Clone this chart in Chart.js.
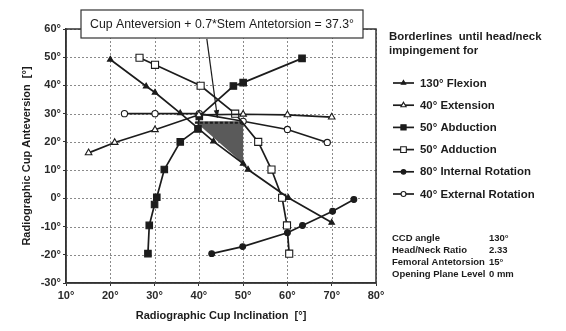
<!DOCTYPE html>
<html>
<head>
<meta charset="utf-8">
<script src="https://cdn.jsdelivr.net/npm/chart.js@4.4.1/dist/chart.umd.min.js"></script>
<style>
  html, body { margin: 0; padding: 0; background: #fff; }
  #wrap { width: 566px; height: 331px; position: relative; }
</style>
</head>
<body>
<div id="wrap"><canvas id="impingeChart"></canvas></div>
<script>
// ---------------------------------------------------------------
// DATA
// ---------------------------------------------------------------
const xTicks = [10, 20, 30, 40, 50, 60, 70, 80];
const yTicks = [-30, -20, -10, 0, 10, 20, 30, 40, 50, 60];

const seriesNames = ['130° Flexion', '40° Extension', '50° Abduction',
  '50° Adduction', '80° Internal Rotation', '40° External Rotation'];

const flexionX = [20, 28.1, 30.1, 35.8, 43.3, 50, 51.1, 60.2, 70];
const flexionY = [49.2, 39.7, 37.5, 30.2, 20.2, 12.3, 10.2, 0.2, -8.6];

const extensionX = [15.1, 21, 30.1, 40, 50, 60, 70];
const extensionY = [16.1, 19.8, 24.3, 29.6, 29.8, 29.6, 28.8];

const abductionX = [28.5, 28.8, 30, 30.5, 32.2, 35.8, 39.8, 40.1, 47.8, 50, 63.3];
const abductionY = [-19.6, -9.6, -2.2, 0.4, 10.2, 20, 24.6, 29, 39.8, 41, 49.6];

const adductionX = [26.6, 30.1, 40.4, 48.2, 53.4, 56.4, 58.8, 59.9, 60.4];
const adductionY = [49.8, 47.3, 39.9, 30, 20, 10.2, 0.2, -9.6, -19.6];

const intRotX = [42.9, 49.9, 60, 63.4, 70.2, 75];
const intRotY = [-19.6, -17.1, -12.2, -9.6, -4.6, -0.4];

const extRotX = [23.2, 30.1, 40.1, 50, 60, 69];
const extRotY = [30, 30, 30, 27.3, 24.4, 19.8];

// safe zone and the 37.3 limit (cup anteversion = 37.3 - 0.7*15)
const zoneX = [39.1, 50, 50];
const zoneY = [27.3, 27.3, 12.3];
const limitX = [39.1, 50];
const limitY = [26.8, 26.8];
const arrowX = [41.8, 44.2];
const arrowY = [56.5, 28.6];

const formulaText = 'Cup Anteversion + 0.7*Stem Antetorsion = 37.3°';
const legendTitle = ['Borderlines  until head/neck', 'impingement for'];
const infoLabels = ['CCD angle', 'Head/Neck Ratio', 'Femoral Antetorsion', 'Opening Plane Level'];
const infoValues = ['130°', '2.33', '15°', '0 mm'];

// ---------------------------------------------------------------
// STYLE
// ---------------------------------------------------------------
const INK = '#1c1c1c';
const markers = [
  { style: 'triangle', r: 3.2, fill: INK },
  { style: 'triangle', r: 3.8, fill: '#fff' },
  { style: 'rect', r: 4.6, fill: INK },
  { style: 'rect', r: 5.0, fill: '#fff' },
  { style: 'circle', r: 2.9, fill: INK },
  { style: 'circle', r: 3.1, fill: '#fff' }
];
const xs = [flexionX, extensionX, abductionX, adductionX, intRotX, extRotX];
const ys = [flexionY, extensionY, abductionY, adductionY, intRotY, extRotY];

Chart.defaults.font.family = '"Liberation Sans", Arial, sans-serif';
Chart.defaults.color = '#2a2a2a';

const datasets = seriesNames.map((name, i) => ({
  label: name,
  data: xs[i].map((v, j) => ({ x: v, y: ys[i][j] })),
  showLine: true,
  borderColor: INK,
  borderWidth: 1.7,
  pointStyle: markers[i].style,
  pointRadius: markers[i].r,
  pointBackgroundColor: markers[i].fill,
  pointBorderColor: INK,
  pointBorderWidth: 1.1
}));

// ---------------------------------------------------------------
// DECORATIONS
// ---------------------------------------------------------------
function pathFrom(ctx, x, y, px, py) {
  ctx.beginPath();
  px.forEach((v, i) => {
    const X = x.getPixelForValue(v), Y = y.getPixelForValue(py[i]);
    i ? ctx.lineTo(X, Y) : ctx.moveTo(X, Y);
  });
}

const decor = {
  id: 'decor',
  beforeDatasetsDraw(chart) {
    const { ctx, chartArea: ca, scales: { x, y } } = chart;
    ctx.save();
    // dotted grid
    ctx.strokeStyle = '#8a8a8a';
    ctx.lineWidth = 1;
    ctx.setLineDash([2, 2]);
    xTicks.forEach(v => {
      const X = Math.round(x.getPixelForValue(v)) + 0.5;
      ctx.beginPath(); ctx.moveTo(X, ca.top); ctx.lineTo(X, ca.bottom); ctx.stroke();
    });
    yTicks.forEach(v => {
      const Y = Math.round(y.getPixelForValue(v)) + 0.5;
      ctx.beginPath(); ctx.moveTo(ca.left, Y); ctx.lineTo(ca.right, Y); ctx.stroke();
    });
    ctx.setLineDash([]);
    // shaded zone
    ctx.fillStyle = '#5a5a5a';
    pathFrom(ctx, x, y, zoneX, zoneY);
    ctx.closePath();
    ctx.fill();
    ctx.restore();
  },
  afterDatasetsDraw(chart) {
    const { ctx, scales: { x, y } } = chart;
    ctx.save();
    // dashed limit line
    ctx.strokeStyle = INK;
    ctx.lineWidth = 2;
    ctx.setLineDash([3, 2]);
    pathFrom(ctx, x, y, limitX, limitY);
    ctx.stroke();
    ctx.setLineDash([]);
    // arrow from the formula box
    ctx.lineWidth = 1.2;
    pathFrom(ctx, x, y, arrowX, arrowY);
    ctx.stroke();
    const x0 = x.getPixelForValue(arrowX[0]), y0 = y.getPixelForValue(arrowY[0]);
    const x1 = x.getPixelForValue(arrowX[1]), y1 = y.getPixelForValue(arrowY[1]);
    const a = Math.atan2(y1 - y0, x1 - x0);
    ctx.fillStyle = INK;
    ctx.beginPath();
    ctx.moveTo(x1, y1);
    ctx.lineTo(x1 - 8 * Math.cos(a - 0.35), y1 - 8 * Math.sin(a - 0.35));
    ctx.lineTo(x1 - 8 * Math.cos(a + 0.35), y1 - 8 * Math.sin(a + 0.35));
    ctx.closePath();
    ctx.fill();
    ctx.restore();
  },
  afterDraw(chart) {
    const { ctx, chartArea: ca } = chart;
    ctx.save();
    // plot frame
    ctx.strokeStyle = '#333';
    ctx.lineWidth = 1.5;
    ctx.strokeRect(ca.left, ca.top, ca.right - ca.left, ca.bottom - ca.top);

    // formula box
    ctx.fillStyle = '#fff';
    ctx.fillRect(81, 10, 282, 28);
    ctx.lineWidth = 1.2;
    ctx.strokeRect(81, 10, 282, 28);
    ctx.fillStyle = INK;
    ctx.font = '12.3px "Liberation Sans", Arial, sans-serif';
    ctx.textAlign = 'center';
    ctx.textBaseline = 'middle';
    ctx.fillText(formulaText, 222, 24.5);

    // legend
    ctx.textAlign = 'left';
    ctx.font = 'bold 11.4px "Liberation Sans", Arial, sans-serif';
    ctx.fillText(legendTitle[0], 389, 37);
    ctx.fillText(legendTitle[1], 389, 51);
    seriesNames.forEach((name, i) => {
      const ly = 83 + i * 22.2;
      ctx.strokeStyle = INK;
      ctx.lineWidth = 1.7;
      ctx.beginPath();
      ctx.moveTo(393, ly);
      ctx.lineTo(414, ly);
      ctx.stroke();
      ctx.fillStyle = markers[i].fill;
      ctx.lineWidth = 1.1;
      Chart.helpers.drawPoint(ctx, {
        pointStyle: markers[i].style, radius: markers[i].r * 0.8, borderWidth: 1.1, rotation: 0
      }, 403.5, ly);
      ctx.fillStyle = INK;
      ctx.fillText(name, 420, ly + 0.5);
    });

    // parameters
    ctx.font = 'bold 9.5px "Liberation Sans", Arial, sans-serif';
    infoLabels.forEach((lab, i) => {
      const ly = 238 + i * 12.2;
      ctx.fillText(lab, 392, ly);
      ctx.fillText(infoValues[i], 489, ly);
    });
    ctx.restore();
  }
};

// ---------------------------------------------------------------
// CHART
// ---------------------------------------------------------------
const tickFont = { size: 11, weight: 'bold' };
const gridOpts = { drawOnChartArea: false, tickLength: 3, tickColor: '#333' };
const borderOpts = { display: true, color: '#333', width: 1.5 };

new Chart(document.getElementById('impingeChart'), {
  type: 'scatter',
  data: { datasets },
  options: {
    responsive: true,
    maintainAspectRatio: false,
    animation: false,
    layout: { padding: { left: 0, top: 29, right: 190, bottom: 0 } },
    plugins: { legend: { display: false }, tooltip: { enabled: false } },
    scales: {
      x: {
        type: 'linear', min: 10, max: 80,
        afterBuildTicks: (s) => { s.ticks = xTicks.map(v => ({ value: v })); },
        afterFit: (s) => { s.height = 48; },
        ticks: { font: tickFont, padding: 3, callback: (v) => v + '°' },
        grid: gridOpts,
        border: borderOpts,
        title: {
          display: true, text: 'Radiographic Cup Inclination  [°]',
          font: { size: 11, weight: 'bold' }, color: INK, padding: { bottom: 8 }
        }
      },
      y: {
        type: 'linear', min: -30, max: 60,
        afterBuildTicks: (s) => { s.ticks = yTicks.map(v => ({ value: v })); },
        afterFit: (s) => { s.width = 66; },
        ticks: { font: tickFont, padding: 2, callback: (v) => v + '°' },
        grid: gridOpts,
        border: borderOpts,
        title: {
          display: true, text: 'Radiographic Cup Anteversion  [°]',
          font: { size: 11, weight: 'bold' }, color: INK, padding: { top: 20 }
        }
      }
    }
  },
  plugins: [decor]
});
</script>
</body>
</html>
